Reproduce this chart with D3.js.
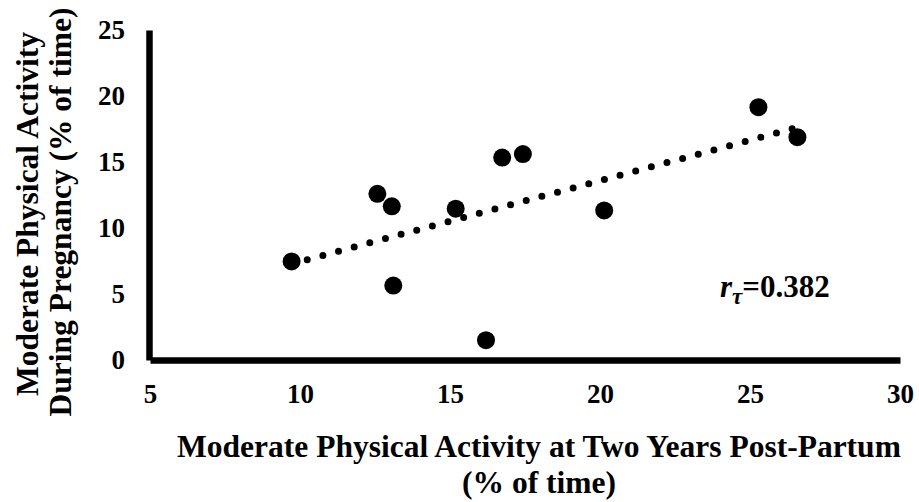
<!DOCTYPE html>
<html>
<head>
<meta charset="utf-8">
<script src="https://cdn.jsdelivr.net/npm/d3@7"></script>
<style>
  body { margin: 0; background: #fff; }
  svg text { font-family: "Liberation Serif", "Times New Roman", serif; font-weight: bold; fill: #000; }
</style>
</head>
<body>
<div id="chart"></div>
<script>
// data
var twoYears  = [9.72, 12.58, 13.06, 13.11, 15.19, 16.2, 16.74, 17.43, 20.14, 25.28, 26.58];
var pregnancy = [7.47, 12.59, 11.64, 5.64, 11.46, 1.50, 15.34, 15.6, 11.33, 19.15, 16.88];
var xTicks = [5, 10, 15, 20, 25, 30];
var yTicks = [0, 5, 10, 15, 20, 25];
var corrLabel = "0.382";

var chart_width  = 919;
var chart_height = 502;

var svg = d3.select('#chart')
  .append('svg')
  .attr('width', chart_width)
  .attr('height', chart_height);

// scales
var x_scale = d3.scaleLinear()
  .domain([5, 30])
  .range([150, 900]);

var y_scale = d3.scaleLinear()
  .domain([0, 25])
  .range([360, 30]);

// axes
var xAxis = d3.axisBottom(x_scale)
  .tickValues(xTicks)
  .tickSize(0)
  .tickSizeOuter(0)
  .tickPadding(24);

var yAxis = d3.axisLeft(y_scale)
  .tickValues(yTicks)
  .tickSize(0)
  .tickSizeOuter(0)
  .tickPadding(24);

var gx = svg.append('g')
  .attr('transform', 'translate(0,360)')
  .call(xAxis);

var gy = svg.append('g')
  .attr('transform', 'translate(149,0)')
  .call(yAxis);

[gx, gy].forEach(function(g){
  g.attr('font-family', '"Liberation Serif", serif').attr('font-size', 27).attr('font-weight', 'bold');
  g.select('.domain').attr('stroke', '#000').attr('stroke-width', 6.5);
  g.selectAll('text')
    .style('font-family', '"Liberation Serif", serif')
    .style('font-size', '27px');
});

// trend line (least squares)
var mx = d3.mean(twoYears), my = d3.mean(pregnancy);
var sxy = d3.sum(twoYears, function(d, i){ return (d - mx) * (pregnancy[i] - my); });
var sxx = d3.sum(twoYears, function(d){ return (d - mx) * (d - mx); });
var slope = sxy / sxx;
var intercept = my - slope * mx;
var xExt = d3.extent(twoYears);

svg.append('line')
  .attr('x1', x_scale(xExt[0]))
  .attr('y1', y_scale(intercept + slope * xExt[0]))
  .attr('x2', x_scale(xExt[1]))
  .attr('y2', y_scale(intercept + slope * xExt[1]))
  .attr('stroke', '#000')
  .attr('stroke-width', 7)
  .attr('stroke-linecap', 'round')
  .attr('stroke-dasharray', '0,16.2');

// points
svg.selectAll('circle')
  .data(twoYears)
  .enter()
  .append('circle')
  .attr('cx', function(d){ return x_scale(d); })
  .attr('cy', function(d, i){ return y_scale(pregnancy[i]); })
  .attr('r', 9)
  .attr('fill', '#000');

// correlation label
var corr = svg.append('text')
  .attr('x', 720)
  .attr('y', 297)
  .style('font-size', '31px');
corr.append('tspan').style('font-style', 'italic').text('r');
corr.append('tspan').style('font-style', 'italic').style('font-size', '23px').attr('dy', 7).text('τ');
corr.append('tspan').attr('dy', -7).text('=' + corrLabel);

// axis titles
var xTitle = svg.append('text')
  .attr('text-anchor', 'middle')
  .style('font-size', '31.5px');
xTitle.append('tspan').attr('x', 539).attr('y', 457)
  .text('Moderate Physical Activity at Two Years Post-Partum');
xTitle.append('tspan').attr('x', 539).attr('y', 493)
  .text('(% of time)');

var yTitle = svg.append('text')
  .attr('text-anchor', 'middle')
  .attr('transform', 'rotate(-90)')
  .style('font-size', '31.5px');
yTitle.append('tspan').attr('x', -214).attr('y', 38)
  .text('Moderate Physical Activity');
yTitle.append('tspan').attr('x', -212).attr('y', 71)
  .text('During Pregnancy (% of time)');
</script>
</body>
</html>
